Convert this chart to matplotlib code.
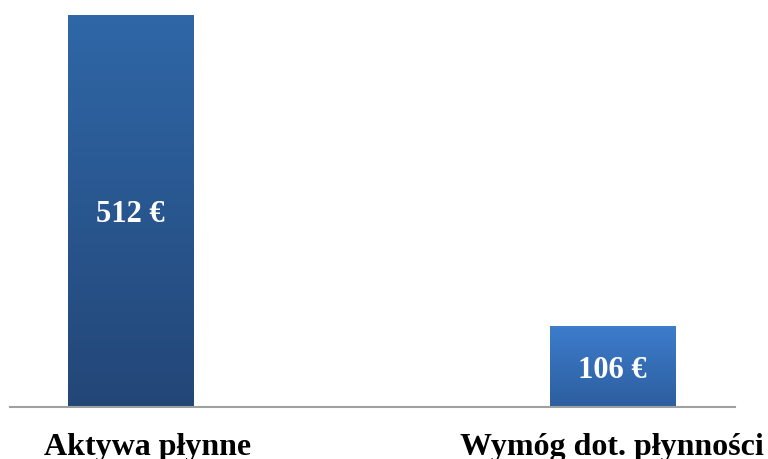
import numpy as np
import matplotlib.pyplot as plt
from matplotlib.colors import LinearSegmentedColormap

categories = ['Aktywa płynne', 'Wymóg dot. płynności']
values = [512, 106]
value_labels = ['512 €', '106 €']
top_colors = ['#2F67A7', '#3D7DCC']
bottom_colors = ['#234677', '#2D5E9F']

plt.rcParams['font.family'] = ['Liberation Serif', 'DejaVu Serif']

fig = plt.figure(figsize=(7.68, 4.6), dpi=100)
ax = fig.add_axes([10/768, 1 - 408/460, 725/768, 392/460])

x = np.arange(len(categories))
width = 0.26
bars = ax.bar(x, values, width=width, color='none', edgecolor='none')

grad = np.linspace(0, 1, 256).reshape(-1, 1)
for i, b in enumerate(bars):
    cmap = LinearSegmentedColormap.from_list('g%d' % i, [bottom_colors[i], top_colors[i]])
    x0, y0 = b.get_x(), b.get_y()
    im = ax.imshow(grad, cmap=cmap, aspect='auto', origin='lower',
                   extent=[x0, x0 + b.get_width(), y0, y0 + b.get_height()], zorder=2)
    im.set_clip_path(b)
    ax.annotate(value_labels[i], (x[i], values[i] / 2), xytext=(0, -7.5),
                textcoords='offset points', ha='center', va='baseline',
                color='white', fontsize=22, fontweight='bold', zorder=3)

# category labels under the baseline (first one sits a bit right of its bar)
label_dx = [12, 0]
for i, c in enumerate(categories):
    ax.annotate(c, (x[i], 0), xytext=(label_dx[i], -34),
                textcoords='offset points', ha='center', va='baseline',
                fontsize=23, fontweight='bold', annotation_clip=False)

ax.set_xlim(-0.25, 1.255)
ax.set_ylim(0, 512)
ax.set_xticks([])
ax.set_yticks([])
for s in ['top', 'left', 'right']:
    ax.spines[s].set_visible(False)
ax.spines['bottom'].set_color('#A0A0A0')
ax.spines['bottom'].set_linewidth(1.5)

fig.savefig('out.png', dpi=100)
